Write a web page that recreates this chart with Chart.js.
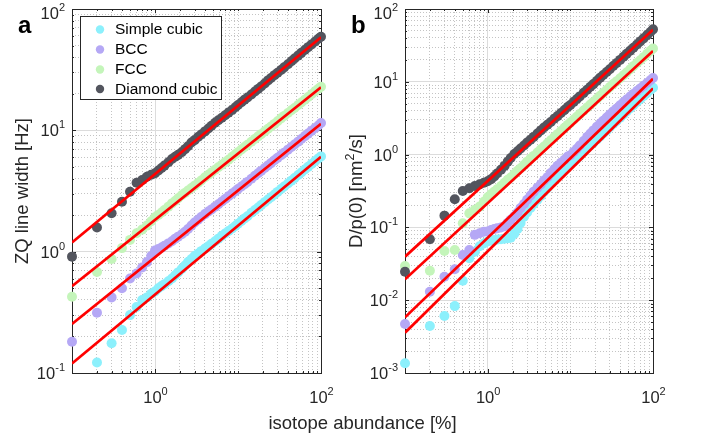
<!DOCTYPE html>
<html>
<head>
<meta charset="utf-8">
<script src="https://cdn.jsdelivr.net/npm/chart.js@4.4.1/dist/chart.umd.min.js"></script>
<style>
  html, body { margin: 0; padding: 0; background: #fff; }
  #wrap { position: relative; width: 705px; height: 440px; }
  #wrap canvas { position: absolute; left: 0; top: 0; }
</style>
</head>
<body>
<div id="wrap">
  <canvas id="panelA" width="705" height="440"></canvas>
  <canvas id="panelB" width="705" height="440"></canvas>
</div>
<script>
// ── Data ──────────────────────────────────────────────────────
const abundance = [0.1, 0.2, 0.3, 0.4, 0.5, 0.6, 0.7, 0.8, 0.9,
  1, 1.1, 1.2, 1.3, 1.45, 1.6, 1.75, 1.9, 2.1, 2.3, 2.5, 2.75, 3, 3.3, 3.6, 4, 4.4, 4.8, 5.3, 5.8, 6.4, 7, 7.7, 8.5, 9.3,
  10, 11, 12, 13, 14.5, 16, 17.5, 19, 21, 23, 25, 27.5, 30, 33, 36, 40, 44, 48, 53, 58, 64, 70, 77, 85, 93, 100];

const seriesNames = ["Simple cubic", "BCC", "FCC", "Diamond cubic"];

// panel a: ZQ line width [Hz]
const zqSimple = [null, 0.122, 0.176, 0.226, 0.30, 0.35, 0.40, 0.42, 0.45,
  0.47, 0.50, 0.52, 0.54, 0.57, 0.60, 0.64, 0.675, 0.72, 0.77, 0.82, 0.87, 0.92, 0.96, 1.01, 1.06, 1.11, 1.16, 1.22, 1.28, 1.35, 1.41, 1.48, 1.55, 1.63,
  1.70, 1.79, 1.88, 1.96, 2.09, 2.20, 2.31, 2.42, 2.56, 2.69, 2.81, 2.96, 3.11, 3.28, 3.44, 3.65, 3.85, 4.04, 4.28, 4.49, 4.75, 5.00, 5.28, 5.58, 5.87, 6.1];
const zqBCC = [0.181, 0.314, 0.42, 0.50, 0.60, 0.66, 0.74, 0.82, 0.92,
  1.02, 1.05, 1.08, 1.12, 1.17, 1.22, 1.28, 1.33, 1.39, 1.46, 1.54, 1.64, 1.74, 1.83, 1.93, 2.04, 2.14, 2.23, 2.35, 2.46, 2.59, 2.72, 2.86, 3.01, 3.15,
  3.28, 3.44, 3.60, 3.76, 3.99, 4.22, 4.43, 4.63, 4.89, 5.14, 5.37, 5.66, 5.93, 6.25, 6.55, 6.93, 7.29, 7.65, 8.07, 8.48, 8.96, 9.40, 9.90, 10.45, 10.95, 11.5];
const zqFCC = [0.425, 0.68, 0.87, 1.07, 1.25, 1.42, 1.52, 1.64, 1.78,
  1.92, 2.01, 2.1, 2.2, 2.35, 2.5, 2.62, 2.76, 2.92, 3.05, 3.19, 3.35, 3.5, 3.68, 3.86, 4.1, 4.3, 4.5, 4.74, 4.96, 5.21, 5.45, 5.73, 6.05, 6.35,
  6.6, 6.96, 7.3, 7.6, 8.05, 8.5, 8.92, 9.3, 9.8, 10.3, 10.76, 11.3, 11.9, 12.55, 13.15, 13.9, 14.62, 15.3, 16.2, 16.97, 17.9, 18.8, 19.8, 20.95, 22.0, 22.9];
const zqDiamond = [0.91, 1.58, 2.07, 2.58, 3.12, 3.70, 3.90, 4.15, 4.30,
  4.43, 4.67, 4.9, 5.12, 5.46, 5.8, 6.06, 6.28, 6.6, 7.0, 7.4, 7.95, 8.3, 8.8, 9.25, 9.8, 10.35, 10.9, 11.55, 12.1, 12.7, 13.3, 14.0, 14.7, 15.5,
  16.2, 17.05, 17.9, 18.65, 19.75, 20.9, 21.95, 22.95, 24.35, 25.8, 27.0, 28.5, 29.8, 31.45, 33.05, 35.1, 37.1, 39.05, 41.3, 43.5, 46.0, 48.5, 51.1, 54.0, 56.8, 59.0];

// panel b: D/p(0) [nm^2/s]
const dSimple = [0.00136, 0.00443, 0.00607, 0.0083, 0.0185, 0.0376, 0.0464, 0.055, 0.060,
  0.064, 0.066, 0.067, 0.068, 0.069, 0.070, 0.071, 0.072, 0.082, 0.095, 0.115, 0.14, 0.16, 0.185, 0.21, 0.24, 0.27, 0.31, 0.35, 0.40, 0.45, 0.50, 0.555, 0.62, 0.68,
  0.74, 0.81, 0.88, 0.96, 1.09, 1.22, 1.34, 1.46, 1.62, 1.78, 1.95, 2.15, 2.38, 2.63, 2.88, 3.22, 3.57, 3.91, 4.34, 4.77, 5.28, 5.8, 6.38, 7.05, 7.72, 8.3];
const dBCC = [0.0047, 0.0131, 0.021, 0.0266, 0.0418, 0.049, 0.079, 0.083, 0.087,
  0.088, 0.092, 0.095, 0.097, 0.100, 0.104, 0.116, 0.127, 0.142, 0.16, 0.185, 0.21, 0.24, 0.275, 0.31, 0.35, 0.39, 0.44, 0.49, 0.56, 0.63, 0.70, 0.77, 0.85, 0.94,
  0.98, 1.09, 1.2, 1.33, 1.54, 1.75, 1.95, 2.15, 2.42, 2.68, 2.92, 3.24, 3.55, 3.92, 4.27, 4.75, 5.23, 5.71, 6.28, 6.82, 7.45, 8.1, 8.8, 9.65, 10.5, 11.3];
const dFCC = [0.0295, 0.0254, 0.0474, 0.049, 0.114, 0.156, 0.175, 0.193, 0.225,
  0.26, 0.285, 0.31, 0.335, 0.37, 0.41, 0.45, 0.485, 0.54, 0.60, 0.65, 0.72, 0.80, 0.88, 0.96, 1.07, 1.18, 1.29, 1.43, 1.57, 1.74, 1.91, 2.11, 2.33, 2.56,
  2.75, 3.03, 3.31, 3.6, 4.02, 4.45, 4.86, 5.28, 5.86, 6.45, 7.02, 7.73, 8.45, 9.3, 10.1, 11.2, 12.3, 13.45, 14.9, 16.4, 18.1, 19.8, 21.8, 24.2, 26.6, 28.6];
const dDiamond = [0.0246, 0.0686, 0.145, 0.243, 0.316, 0.344, 0.37, 0.39, 0.41,
  0.43, 0.46, 0.50, 0.55, 0.62, 0.70, 0.80, 0.90, 1.02, 1.11, 1.21, 1.33, 1.47, 1.60, 1.75, 1.95, 2.15, 2.35, 2.58, 2.8, 3.1, 3.38, 3.72, 4.1, 4.5,
  4.8, 5.3, 5.8, 6.3, 7.05, 7.8, 8.55, 9.3, 10.3, 11.4, 12.4, 13.6, 14.9, 16.45, 18.0, 20.0, 22.1, 24.2, 26.8, 29.4, 32.6, 35.9, 39.5, 43.8, 48.2, 52.5];

// red power-law fits, values at both ends of the x range
const fitEnds = [0.1, 100];
const zqFitSimple = [0.12, 6.06],    zqFitBCC = [0.254, 11.3],   zqFitFCC = [0.52, 22.6],   zqFitDiamond = [1.19, 58.5];
const dFitSimple  = [0.00358, 8.13], dFitBCC  = [0.00582, 11.0], dFitFCC = [0.0194, 26.5], dFitDiamond  = [0.0396, 52];

// tick labels (powers of ten)
const xTickExps  = [0, 2];
const yTickExpsA = [-1, 0, 1, 2];
const yTickExpsB = [-3, -2, -1, 0, 1, 2];

const colors = ["#8cf0fc", "#b5a8f5", "#c4f5ba", "#53555e"];

// ── Helpers ───────────────────────────────────────────────────
const FONT = '"Liberation Sans", Arial, sans-serif';
const INK = "#262626";

function points(ys) {
  return abundance.map((x, i) => ({ x, y: ys[i] })).filter(p => p.y != null);
}

function scatterSet(label, ys, color) {
  return {
    label, data: points(ys), showLine: false, clip: false,
    backgroundColor: color, borderColor: color,
    pointRadius: 5, pointBorderWidth: 0, pointHoverRadius: 5
  };
}

function fitSet(ends) {
  return {
    data: fitEnds.map((x, i) => ({ x, y: ends[i] })), showLine: true,
    borderColor: "#ff0000", borderWidth: 2.7, pointRadius: 0, pointHoverRadius: 0, fill: false
  };
}

function logTicks(min, max, majorExps) {
  const out = [];
  for (let e = Math.round(Math.log10(min)); e < Math.round(Math.log10(max)); e++) {
    for (let m = 1; m < 10; m++) {
      out.push({ value: m * Math.pow(10, e), major: m === 1 && majorExps.includes(e) });
    }
  }
  out.push({ value: max, major: majorExps.includes(Math.round(Math.log10(max))) });
  return out;
}

function logAxis(min, max, majorExps, position) {
  return {
    type: "logarithmic", min, max, position,
    ticks: { display: false },
    afterBuildTicks: (s) => { s.ticks = logTicks(min, max, majorExps); },
    grid: {
      drawTicks: false, lineWidth: 1,
      color: (c) => (c.tick && c.tick.major) ? "#dcdcdc" : "#c4c4c4"
    },
    border: { display: false, dash: (c) => (c.tick && c.tick.major) ? [] : [1, 2] }
  };
}

function drawPower(ctx, exp, x, yc, align) {
  const fb = 16.5, fe = 11;
  ctx.font = `${fb}px ${FONT}`;
  const wb = ctx.measureText("10").width;
  ctx.font = `${fe}px ${FONT}`;
  const es = String(exp);
  const we = ctx.measureText(es).width;
  const tot = wb + we;
  const x0 = align === "right" ? x - tot : align === "center" ? x - tot / 2 : x;
  const base = yc + 0.358 * fb;
  ctx.textAlign = "left";
  ctx.textBaseline = "alphabetic";
  ctx.font = `${fb}px ${FONT}`;
  ctx.fillText("10", x0, base);
  ctx.font = `${fe}px ${FONT}`;
  ctx.fillText(es, x0 + wb, base - 8);
}

// rotated title; parts = [[text, isSup], ...]
function drawVTitle(ctx, parts, xBase, yc) {
  const fs = 18.5, fsup = 12.5;
  let tot = 0;
  parts.forEach(([t, sup]) => { ctx.font = `${sup ? fsup : fs}px ${FONT}`; tot += ctx.measureText(t).width; });
  ctx.save();
  ctx.translate(xBase, yc);
  ctx.rotate(-Math.PI / 2);
  ctx.textAlign = "left";
  ctx.textBaseline = "alphabetic";
  let x = -tot / 2;
  parts.forEach(([t, sup]) => {
    ctx.font = `${sup ? fsup : fs}px ${FONT}`;
    ctx.fillText(t, x, sup ? -8 : 0);
    x += ctx.measureText(t).width;
  });
  ctx.restore();
}

// ── Frame, ticks, labels, legend ──────────────────────────────
const framePlugin = {
  id: "frame",
  beforeDatasetsDraw(chart) {
    const { ctx, chartArea: a, scales: { x, y } } = chart;
    ctx.save();
    ctx.strokeStyle = INK;
    ctx.lineWidth = 1;
    ctx.beginPath();
    x.ticks.forEach(t => {
      const px = Math.round(x.getPixelForValue(t.value)) + 0.5;
      const len = t.major ? 4 : 2;
      ctx.moveTo(px, a.bottom); ctx.lineTo(px, a.bottom - len);
      ctx.moveTo(px, a.top);    ctx.lineTo(px, a.top + len);
    });
    y.ticks.forEach(t => {
      const py = Math.round(y.getPixelForValue(t.value)) + 0.5;
      const len = t.major ? 4 : 2;
      ctx.moveTo(a.left, py);  ctx.lineTo(a.left + len, py);
      ctx.moveTo(a.right, py); ctx.lineTo(a.right - len, py);
    });
    ctx.stroke();
    ctx.strokeRect(Math.round(a.left) + 0.5, Math.round(a.top) + 0.5,
      Math.round(a.right - a.left), Math.round(a.bottom - a.top));
    ctx.restore();
  },
  afterDraw(chart, args, o) {
    const { ctx, chartArea: a, scales: { x, y } } = chart;
    ctx.save();
    ctx.fillStyle = INK;
    o.yExps.forEach(e => {
      const py = y.getPixelForValue(Math.pow(10, e));
      drawPower(ctx, e, a.left - 7, Math.max(py, 13), "right");
    });
    o.xExps.forEach(e => {
      const px = x.getPixelForValue(Math.pow(10, e));
      drawPower(ctx, e, px + 0.5, 397.5, "center");
    });
    drawVTitle(ctx, o.yTitle, o.yTitleX, (a.top + a.bottom) / 2);

    ctx.font = `bold 24px ${FONT}`;
    ctx.fillStyle = "#000";
    ctx.textAlign = "left";
    ctx.fillText(o.letter, o.letterX, 33);

    if (o.xTitle) {
      ctx.fillStyle = INK;
      ctx.font = `18.5px ${FONT}`;
      ctx.textAlign = "center";
      ctx.fillText(o.xTitle, 362.5, 429);
    }

    if (o.legend) {
      ctx.fillStyle = "#fff";
      ctx.fillRect(80.5, 16.5, 141, 83);
      ctx.strokeStyle = INK;
      ctx.lineWidth = 1;
      ctx.strokeRect(80.5, 16.5, 141, 83);
      const rows = [29.5, 49.5, 69.5, 89];
      seriesNames.forEach((name, i) => {
        ctx.fillStyle = colors[i];
        ctx.beginPath();
        ctx.arc(100, rows[i], 4.2, 0, Math.PI * 2);
        ctx.fill();
        ctx.fillStyle = "#000";
        ctx.font = `15.5px ${FONT}`;
        ctx.textAlign = "left";
        ctx.textBaseline = "middle";
        ctx.fillText(name, 115, rows[i] + 0.5);
      });
    }
    ctx.restore();
  }
};

function makePanel(id, padding, yMin, yExps, sets, frame) {
  return new Chart(document.getElementById(id), {
    type: "scatter",
    data: { datasets: sets },
    options: {
      responsive: false, animation: false, devicePixelRatio: 1, events: [],
      layout: { padding },
      plugins: { legend: { display: false }, tooltip: { enabled: false }, frame },
      scales: {
        x: logAxis(0.1, 100, xTickExps, "bottom"),
        y: logAxis(yMin, 100, yExps, "left")
      }
    },
    plugins: [framePlugin]
  });
}

// first dataset is drawn on top: fits, then diamond ... simple cubic
makePanel("panelA", { left: 72, right: 384, top: 9, bottom: 67 }, 0.1, yTickExpsA, [
  fitSet(zqFitDiamond), fitSet(zqFitFCC), fitSet(zqFitBCC), fitSet(zqFitSimple),
  scatterSet(seriesNames[3], zqDiamond, colors[3]),
  scatterSet(seriesNames[2], zqFCC, colors[2]),
  scatterSet(seriesNames[1], zqBCC, colors[1]),
  scatterSet(seriesNames[0], zqSimple, colors[0])
], {
  yExps: yTickExpsA, xExps: xTickExps, letter: "a", letterX: 18,
  yTitle: [["ZQ line width [Hz]", false]], yTitleX: 28, legend: true
});

makePanel("panelB", { left: 405, right: 52, top: 9, bottom: 67 }, 0.001, yTickExpsB, [
  fitSet(dFitDiamond), fitSet(dFitFCC), fitSet(dFitBCC), fitSet(dFitSimple),
  scatterSet(seriesNames[3], dDiamond, colors[3]),
  scatterSet(seriesNames[2], dFCC, colors[2]),
  scatterSet(seriesNames[1], dBCC, colors[1]),
  scatterSet(seriesNames[0], dSimple, colors[0])
], {
  yExps: yTickExpsB, xExps: xTickExps, letter: "b", letterX: 351,
  yTitle: [["D/p(0) [nm", false], ["2", true], ["/s]", false]], yTitleX: 361.5,
  xTitle: "isotope abundance [%]"
});
</script>
</body>
</html>
